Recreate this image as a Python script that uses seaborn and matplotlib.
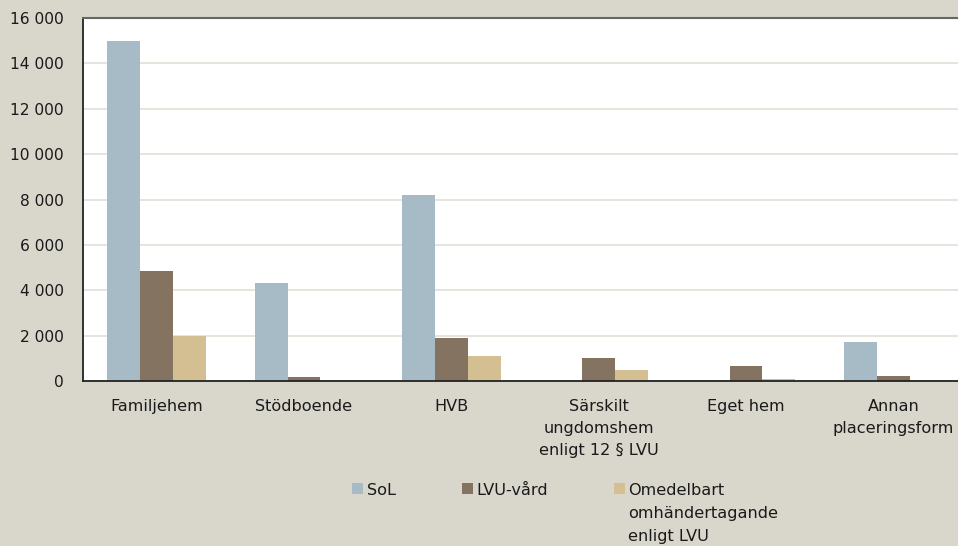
import numpy as np
import pandas as pd
import matplotlib
matplotlib.use("Agg")
import matplotlib.pyplot as plt
import seaborn as sns
from matplotlib.ticker import FuncFormatter, FixedLocator

# Placeringsformer
categories = ["Familjehem", "Stödboende", "HVB",
              "Särskilt\nungdomshem\nenligt 12 § LVU", "Eget hem",
              "Annan\nplaceringsform"]
series = ["SoL", "LVU-vård", "Omedelbart\nomhändertagande\nenligt LVU"]

sol = [15000, 4320, 8200, 0, 0, 1730]
lvu = [4850, 180, 1900, 1010, 650, 220]
omedelbart = [1980, 10, 1100, 480, 90, 60]

colors = ["#A7BBC6", "#857362", "#D4BF93"]
bg = "#D9D7CC"

rows = []
for vals, name in zip([sol, lvu, omedelbart], series):
    for cat, v in zip(categories, vals):
        rows.append({"Placering": cat, "Lagrum": name, "Antal": v})
df = pd.DataFrame(rows)

sns.set_style("white")
plt.rcParams["font.family"] = ["DejaVu Sans"]
FS = 11.6

fig = plt.figure(figsize=(9.58, 5.46), dpi=100, facecolor=bg)
# axes: left 83px, right beyond the cropped edge, top 18px, bottom 381px
ax = fig.add_axes([83 / 958, (546 - 381) / 546, 884 / 958, 363 / 546])
ax.set_facecolor("white")

sns.barplot(data=df, x="Placering", y="Antal", hue="Lagrum",
            palette=colors, width=0.67, gap=0, saturation=1,
            edgecolor="none", linewidth=0, ax=ax)

ax.set_xlim(-0.5, len(categories) - 0.5)
ax.set_ylim(0, 16000)
ax.set_yticks(np.arange(0, 16001, 2000))
ax.yaxis.set_major_formatter(FuncFormatter(lambda v, p: f"{int(v):,}".replace(",", " ")))
ax.grid(axis="y", color="#E2DFD6", linewidth=1.2)
ax.set_axisbelow(True)

ax.tick_params(axis="y", length=0, labelsize=FS - 0.4, pad=14, colors="#1a1a1a")
ax.tick_params(axis="x", which="major", length=0, labelsize=FS, pad=13,
               colors="#1a1a1a")
for lbl in ax.get_xticklabels():
    lbl.set_linespacing(1.6)
ax.xaxis.set_minor_locator(FixedLocator(np.arange(0.5, len(categories) - 1, 1)))
ax.tick_params(axis="x", which="minor", direction="in", length=5,
               width=1, color="#333333")

ax.set_xlabel("")
ax.set_ylabel("")

for s in ["left", "bottom"]:
    ax.spines[s].set_color("#222222")
    ax.spines[s].set_linewidth(1.3)
ax.spines["top"].set_color("#666666")
ax.spines["top"].set_linewidth(1.5)
ax.spines["right"].set_visible(False)

handles, labels = ax.get_legend_handles_labels()
ax.legend_.remove()
leg = fig.legend(handles, labels, loc="upper left",
                 bbox_to_anchor=(352 / 958, 1 - 483 / 546),
                 ncol=3, frameon=False, fontsize=FS, handlelength=0.7,
                 handleheight=0.7, handletextpad=0.2, columnspacing=4.1,
                 borderpad=0, borderaxespad=0)
for t in leg.get_texts():
    t.set_linespacing(1.65)
    t.set_color("#1a1a1a")
# marker next to the first line of each label, columns aligned at top
leg._legend_handle_box.align = "top"
for col in leg._legend_handle_box.get_children():
    for item in col.get_children():
        item.align = "top"

fig.savefig("out.png", dpi=100, facecolor=bg)
